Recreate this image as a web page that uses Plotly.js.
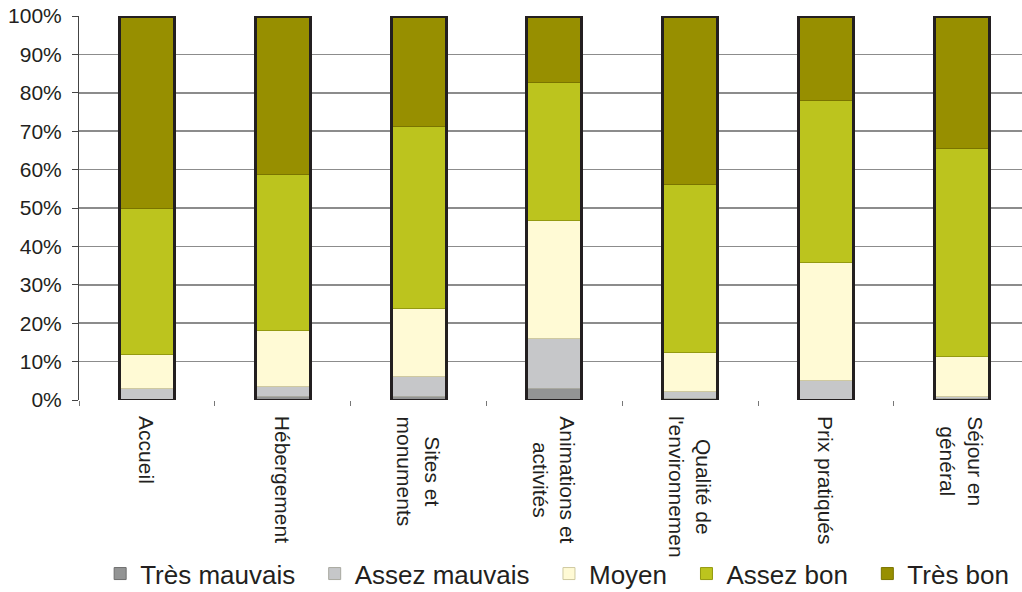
<!DOCTYPE html>
<html>
<head>
<meta charset="utf-8">
<script src="https://cdn.plot.ly/plotly-3.0.1.min.js"></script>
<style>html,body{margin:0;padding:0;background:#fff;}#chart{width:1022px;height:592px;}</style>
</head>
<body>
<div id="chart"></div>
<script>
// ---- data ----
const categories = ["Accueil", "Hébergement", "Sites et<br>monuments", "Animations et<br>activités",
  "Qualité de<br>l'environnemen", "Prix pratiqués", "Séjour en<br>général"];
const seriesNames = ["Très mauvais", "Assez mauvais", "Moyen", "Assez bon", "Très bon"];
const tresMauvais  = [0.0, 1.0, 1.0, 3.1, 0.5, 0.0, 0.4];
const assezMauvais = [3.0, 2.6, 5.2, 13.0, 1.6, 5.2, 0.6];
const moyen        = [8.8, 14.4, 17.6, 30.7, 10.3, 30.7, 10.3];
const assezBon     = [38.2, 40.7, 47.5, 35.9, 43.8, 42.1, 54.2];
const tresBon      = [50.0, 41.3, 28.7, 17.3, 43.8, 22.0, 34.5];
const yTicks = [0, 10, 20, 30, 40, 50, 60, 70, 80, 90, 100];
const yTickLabels = ["0%", "10%", "20%", "30%", "40%", "50%", "60%", "70%", "80%", "90%", "100%"];

// ---- style ----
const fills = ["#939494", "#c6c7c9", "#fffad5", "#bcc41e", "#978f00"];
const edges = ["#6e6e6e", "#a9a9a0", "#cfc9a0", "#949a10", "#7a7400"];
const font = "Liberation Sans, Arial, sans-serif";
const series = [tresMauvais, assezMauvais, moyen, assezBon, tresBon];
const barW = 0.405;

const traces = series.map((vals, i) => ({
  type: "bar",
  x: categories,
  y: vals,
  name: seriesNames[i] + "\u00a0\u00a0",
  width: barW,
  marker: {color: fills[i], line: {color: edges[i], width: 1}},
  hoverinfo: "y+name"
}));

// frame around each stacked column (sum of the series)
const totals = categories.map((_, k) => series.reduce((s, arr) => s + arr[k], 0));
traces.push({
  type: "bar",
  x: categories,
  y: totals,
  xaxis: "x2", yaxis: "y2",
  width: barW,
  showlegend: false,
  hoverinfo: "skip",
  marker: {color: "rgba(0,0,0,0)", line: {color: "#231f20", width: 3}}
});

const xr = [-0.5, 6.444];
const annotations = categories.map(c => ({
  x: c, xref: "x", y: 0, yref: "paper",
  yanchor: "top", xanchor: "center", yshift: -14,
  text: c, showarrow: false, textangle: 90, align: "center",
  font: {family: font, size: 21, color: "#231f20"}
}));

const layout = {
  width: 1022, height: 592,
  margin: {l: 79, r: 0, t: 16, b: 192, autoexpand: false},
  paper_bgcolor: "#fff", plot_bgcolor: "#fff",
  barmode: "stack",
  bargap: 0,
  showlegend: true,
  legend: {
    orientation: "h", xref: "container", yref: "container",
    x: 0.098, xanchor: "left", y: 0.031, yanchor: "middle",
    font: {family: font, size: 26, color: "#231f20"},
    traceorder: "normal", itemclick: false
  },
  xaxis: {
    type: "category", range: xr, showgrid: false, zeroline: false,
    showticklabels: false, ticks: "outside", tickson: "boundaries",
    ticklen: 5, tickcolor: "#777", tickwidth: 1, showline: false, fixedrange: true
  },
  yaxis: {
    range: [0, 100], tickmode: "array", tickvals: yTicks, ticktext: yTickLabels,
    showgrid: true, gridcolor: "#8c8c8c", gridwidth: 1.5, zeroline: false,
    showline: true, linecolor: "#444", linewidth: 1,
    ticks: "outside", ticklen: 6, tickcolor: "#444", ticklabelstandoff: 6,
    tickfont: {family: font, size: 21, color: "#231f20"}, fixedrange: true
  },
  xaxis2: {type: "category", range: xr, overlaying: "x", visible: false, matches: "x"},
  yaxis2: {range: [0, 100], overlaying: "y", visible: false},
  annotations: annotations
};

Plotly.newPlot("chart", traces, layout, {displayModeBar: false, staticPlot: true});
</script>
</body>
</html>
